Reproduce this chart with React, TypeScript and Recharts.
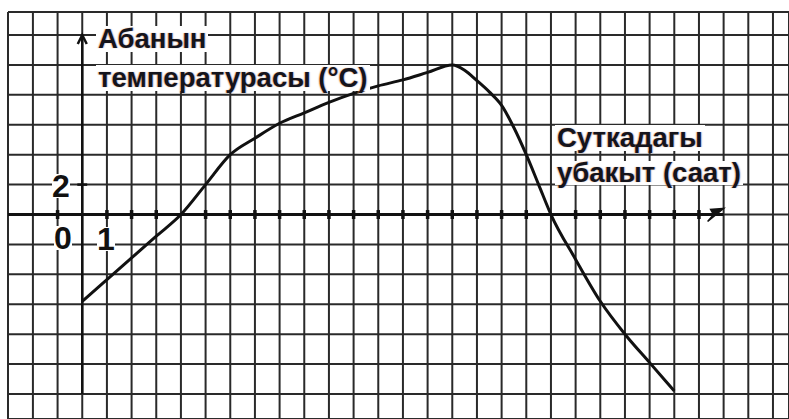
import { LineChart, Line, XAxis, YAxis, CartesianGrid, ReferenceLine } from "recharts"

// hour of day and air temperature (°C)
const hours = [0, 1, 2, 3, 4, 5, 6, 7, 8, 9, 10, 11, 12, 13, 14, 15, 15.5, 16, 16.5, 17, 17.5, 18, 18.5, 19, 20, 21, 22, 23, 24]
const temps = [-5.8, -4.35, -2.9, -1.45, 0, 2.0, 4.0, 5.1, 6.1, 6.8, 7.5, 8.1, 8.6, 9.0, 9.5, 10, 9.65, 8.95, 8.2, 7.3, 5.8, 4.0, 2.0, 0, -3.0, -5.8, -8.0, -9.9, -11.8]

// squared paper: one cell = 1 hour across, 2 °C up
const gridHours = [-2, -1, 0, 1, 2, 3, 4, 5, 6, 7, 8, 9, 10, 11, 12, 13, 14, 15, 16, 17, 18, 19, 20, 21, 22, 23, 24, 25, 26, 27, 28]
const gridTemps = [-12, -10, -8, -6, -4, -2, 0, 2, 4, 6, 8, 10, 12]
const tickHours = [-1, 1, 2, 3, 5, 6, 7, 8, 9, 10, 11, 12, 13, 14, 15, 16, 17, 18, 20, 21, 22, 23, 24, 25]

const yAxisLabel = ["Абанын", "температурасы (°С)"]
const xAxisLabel = ["Суткадагы", "убакыт (саат)"]

const X_MIN = -3.01
const X_MAX = 28.65
const Y_MIN = -13.67
const Y_MAX = 13.54

const data = hours.map((h, i) => ({ h, t: temps[i] }))

const INK = "#111"
const GRID = "#2a2a2a"

const labelFont: React.CSSProperties = {
  position: "absolute",
  fontFamily: "'Liberation Sans', Arial, sans-serif",
  fontWeight: 700,
  fontSize: 27.5,
  lineHeight: "26px",
  color: "#14141c",
  background: "#fff",
  whiteSpace: "nowrap",
  textShadow: "-1px 0 1px rgba(230,140,30,0.55), 1px 0 1px rgba(40,70,180,0.35)",
}

const numFont: React.CSSProperties = {
  position: "absolute",
  fontFamily: "'Liberation Sans', Arial, sans-serif",
  fontWeight: 700,
  fontSize: 32,
  lineHeight: "24px",
  color: INK,
  background: "#fff",
}

function YArrow(props: any) {
  const { x1, y1, x2, y2 } = props
  return (
    <g>
      <line x1={x1} y1={y1} x2={x2} y2={y2} stroke={INK} strokeWidth={2.5} />
      <path d={`M${x2 - 4.5},${y2 + 9} L${x2},${y2} L${x2 + 4.5},${y2 + 9}`} fill="none" stroke={INK} strokeWidth={2.5} />
    </g>
  )
}

function XArrow(props: any) {
  const { x1, y1, x2, y2 } = props
  return (
    <g>
      <line x1={x1} y1={y1} x2={x2} y2={y2} stroke={INK} strokeWidth={3} />
      <path
        d={`M${x2},${y2 - 6} L${x2 - 16},${y2 + 7} L${x2 - 10},${y2} L${x2 - 13},${y2 - 5} Z`}
        fill={INK}
        stroke={INK}
        strokeWidth={1.5}
      />
    </g>
  )
}

export default function App() {
  return (
    <div style={{ position: "absolute", left: 0, top: 0, width: 789, height: 419, background: "#fff" }}>
      <LineChart width={789} height={419} data={data} margin={{ top: 12, right: 0, bottom: 0, left: 8 }}>
        <CartesianGrid stroke={GRID} strokeWidth={2} />
        <XAxis dataKey="h" type="number" domain={[X_MIN, X_MAX]} ticks={gridHours} allowDataOverflow hide />
        <YAxis type="number" domain={[Y_MIN, Y_MAX]} ticks={gridTemps} allowDataOverflow hide />
        <ReferenceLine segment={[{ x: X_MIN, y: 0 }, { x: 26, y: 0 }]} shape={XArrow} ifOverflow="visible" />
        <ReferenceLine segment={[{ x: 0, y: -12 }, { x: 0, y: 12 }]} shape={YArrow} ifOverflow="visible" />
        {tickHours.map((h) => (
          <ReferenceLine key={h} segment={[{ x: h, y: -0.3 }, { x: h, y: 0.3 }]} stroke={INK} strokeWidth={3.5} />
        ))}
        <ReferenceLine segment={[{ x: -0.2, y: 2 }, { x: 0.2, y: 2 }]} stroke={INK} strokeWidth={2.5} />
        <Line type="monotone" dataKey="t" stroke={INK} strokeWidth={3} dot={false} isAnimationActive={false} />
      </LineChart>

      <div style={{ ...labelFont, left: 96, top: 26, padding: "0 2px" }}>{yAxisLabel[0]}</div>
      <div style={{ ...labelFont, left: 96, top: 65, padding: "0 2px" }}>{yAxisLabel[1]}</div>
      <div style={{ ...labelFont, left: 555, top: 125, padding: "0 2px" }}>{xAxisLabel[0]}</div>
      <div style={{ ...labelFont, left: 555, top: 161, lineHeight: "24px", padding: "0 2px" }}>{xAxisLabel[1]}</div>

      <div style={{ ...numFont, left: 52, top: 174 }}>2</div>
      <div style={{ ...numFont, left: 54, top: 226 }}>0</div>
      <div style={{ ...numFont, left: 97, top: 227 }}>1</div>
    </div>
  )
}
